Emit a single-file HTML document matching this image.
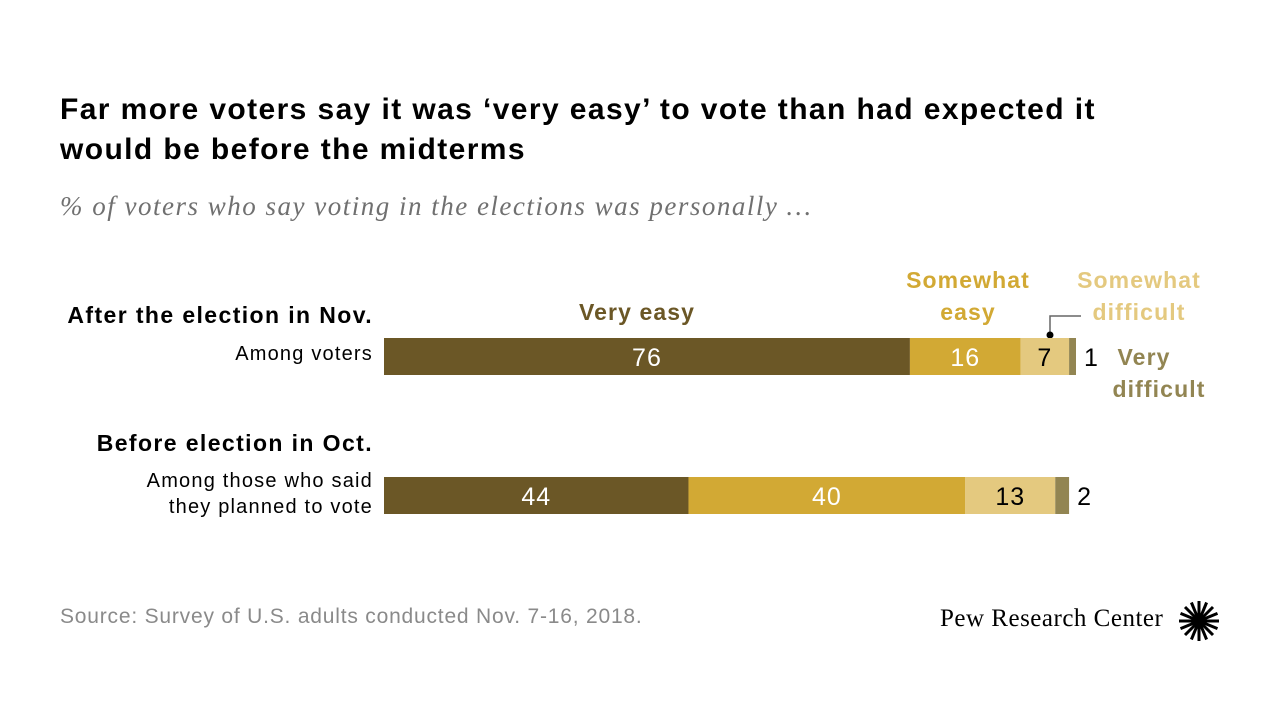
<!DOCTYPE html>
<html><head><meta charset="utf-8"><style>
body{margin:0;width:1280px;height:720px;background:#fff;position:relative;overflow:hidden;font-family:"Liberation Sans",sans-serif}
.a{position:absolute;white-space:nowrap}
h1{position:absolute;left:60px;top:90px;margin:0;font-size:30px;line-height:40px;font-weight:bold;color:#000;letter-spacing:1.4px}
.sub{left:60px;top:191px;font-family:"Liberation Serif",serif;font-style:italic;font-size:27px;color:#707070;letter-spacing:1.5px}
.grp{font-weight:bold;font-size:23px;color:#000;text-align:right;letter-spacing:1.4px}
.rl{font-size:20px;color:#000;text-align:right;line-height:26px;letter-spacing:1.2px}
.lg{font-weight:bold;font-size:23px;text-align:center;line-height:32px;letter-spacing:1.1px;transform:translateX(-50%)}
</style></head><body>
<h1>Far more voters say it was ‘very easy’ to vote than had expected it<br>would be before the midterms</h1>
<div class="a sub">% of voters who say voting in the elections was personally …</div>
<div class="a grp" style="right:907px;top:302px">After the election in Nov.</div>
<div class="a rl" style="right:907px;top:341px">Among voters</div>
<div class="a grp" style="right:907px;top:430px">Before election in Oct.</div>
<div class="a rl" style="right:907px;top:468px">Among those who said<br>they planned to vote</div>
<div class="a lg" style="left:637px;top:296px;color:#6b5726">Very easy</div>
<div class="a lg" style="left:968px;top:264px;color:#d2a934">Somewhat<br>easy</div>
<div class="a lg" style="left:1139px;top:264px;color:#e4c97f">Somewhat<br>difficult</div>
<div class="a lg" style="left:1159px;top:341px;color:#928552">Very&nbsp;&nbsp;&nbsp;&nbsp;<br>difficult</div>
<svg id="chart" class="a" style="left:0;top:0" width="1280" height="720">
<polyline points="1050,335 1050,316 1081,316" fill="none" stroke="#666" stroke-width="1.5"/>
<circle cx="1050" cy="335" r="3.5" fill="#000"/>
</svg>
<div class="a" style="left:60px;top:605px;font-size:21px;color:#8a8a8a;letter-spacing:0.8px">Source: Survey of U.S. adults conducted Nov. 7-16, 2018.</div>
<div class="a" style="left:940px;top:605px;font-family:'Liberation Serif',serif;font-size:25px;color:#000;letter-spacing:0.5px">Pew Research Center</div>
<svg class="a" style="left:1178px;top:600px" width="42" height="42">
<g transform="translate(21,21)" stroke="#000" stroke-width="3">
<line x1="0" y1="-20" x2="0" y2="20"/><line x1="-20" y1="0" x2="20" y2="0"/>
<line x1="-14" y1="-14" x2="14" y2="14"/><line x1="-14" y1="14" x2="14" y2="-14"/>
<line x1="-7.6" y1="-18.5" x2="7.6" y2="18.5"/><line x1="7.6" y1="-18.5" x2="-7.6" y2="18.5"/>
<line x1="-18.5" y1="-7.6" x2="18.5" y2="7.6"/><line x1="-18.5" y1="7.6" x2="18.5" y2="-7.6"/>
</g><circle cx="21" cy="21" r="6" fill="#000"/></svg>
<script>
const categories=["After","Before"];
const veryEasy=[76,44];
const somewhatEasy=[16,40];
const somewhatDifficult=[7,13];
const veryDifficult=[1,2];
const x0=384,scale=6.92,rowY=[338,477],barH=37;
const colors=["#6b5726","#d2a934","#e4c97f","#928552"];
const textColors=["#fff","#fff","#000",null];
const names=["very-easy","somewhat-easy","somewhat-difficult","very-difficult"];
const series=[veryEasy,somewhatEasy,somewhatDifficult,veryDifficult];
const svg=document.getElementById('chart');
const NS="http://www.w3.org/2000/svg";
const xs=v=>v*scale;
categories.forEach((c,i)=>{
  let x=x0;
  series.forEach((s,j)=>{
    const w=xs(s[i]);
    const r=document.createElementNS(NS,'rect');
    r.setAttribute('x',x);r.setAttribute('y',rowY[i]);r.setAttribute('width',w);r.setAttribute('height',barH);r.setAttribute('fill',colors[j]);
    
    
    svg.appendChild(r);
    const t=document.createElementNS(NS,'text');
    if(textColors[j]){t.setAttribute('x',x+w/2);t.setAttribute('text-anchor','middle');t.setAttribute('fill',textColors[j]);}
    else{t.setAttribute('x',x+w+8);t.setAttribute('fill','#000');}
    t.setAttribute('y',rowY[i]+28);t.setAttribute('font-size','25');t.setAttribute('font-family','Liberation Sans, sans-serif');t.setAttribute('letter-spacing','1');
    t.textContent=s[i];
    
    
    svg.appendChild(t);
    x+=w;
  });
});
</script>
</body></html>
